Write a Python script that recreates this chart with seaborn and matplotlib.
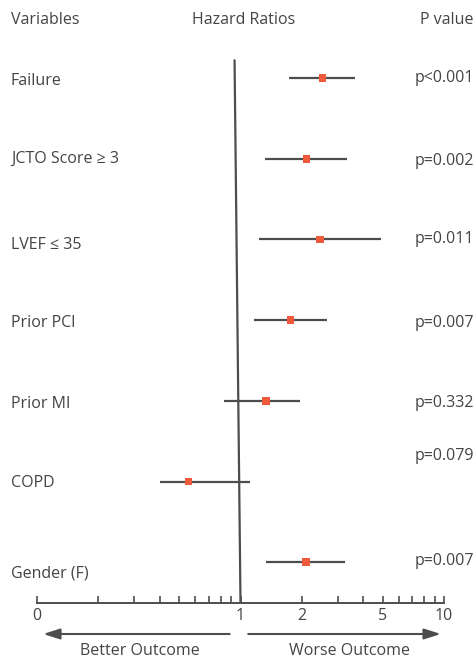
"""Forest plot of hazard ratios by variable."""

import matplotlib

matplotlib.use("Agg")

import matplotlib.pyplot as plt
import numpy as np
import pandas as pd
import seaborn as sns
from matplotlib.ticker import FixedLocator, FixedFormatter, NullFormatter

variables = ["Failure", "JCTO Score \u2265 3", "LVEF \u2264 35", "Prior PCl", "Prior MI", "COPD", "Gender (F)"]
hazard_ratio = [2.53, 2.11, 2.47, 1.76, 1.33, 0.555, 2.09]
ci_low = [1.73, 1.32, 1.23, 1.16, 0.83, 0.40, 1.34]
ci_high = [3.65, 3.32, 4.93, 2.67, 1.97, 1.11, 3.28]
p_values = ["p<0.001", "p=0.002", "p=0.011", "p=0.007", "p=0.332", "p=0.079", "p=0.007"]

major_ticks = [0.1, 1, 2, 5, 10]
major_labels = ["0", "1", "2", "5", "10"]
minor_ticks = [0.2, 0.3, 0.4, 0.5, 0.6, 0.7, 0.8, 0.9, 3, 4, 6, 7, 8, 9]

TEXT = "#444444"
LINE = "#4d4d4d"
MARK = "#f05a3c"
FS = 11.5

sns.set_style("white")
plt.rcParams["font.family"] = ["Open Sans", "DejaVu Sans"]

df = pd.DataFrame({"variable": variables, "hr": hazard_ratio, "lo": ci_low, "hi": ci_high, "p": p_values})
df["row"] = np.arange(len(df))

fig = plt.figure(figsize=(4.76, 6.58), dpi=100)
ax = fig.add_axes([37 / 476, 1 - 602.6 / 658, 407 / 476, 602.6 / 658])

ax.hlines(df["row"], df["lo"], df["hi"], color=LINE, linewidth=1.6, zorder=2)
sns.scatterplot(data=df, x="hr", y="row", ax=ax, marker="s", s=32, color=MARK,
                edgecolor="none", zorder=3, legend=False)

# reference line at HR = 1 (slightly tilted in the original)
ax.plot([0.935, 1.0], [-0.22, 6.5], color=LINE, linewidth=1.6, zorder=1)

ax.set_xscale("log")
ax.set_xlim(0.1, 10)
ax.set_ylim(6.5, -0.967)
ax.set_xlabel("")
ax.set_ylabel("")
ax.set_yticks([])
for side in ["top", "left", "right"]:
    ax.spines[side].set_visible(False)
ax.spines["bottom"].set_color(LINE)
ax.spines["bottom"].set_linewidth(1.4)
ax.xaxis.set_major_locator(FixedLocator(major_ticks))
ax.xaxis.set_major_formatter(FixedFormatter(major_labels))
ax.xaxis.set_minor_locator(FixedLocator(minor_ticks))
ax.xaxis.set_minor_formatter(NullFormatter())
ax.tick_params(axis="x", which="both", direction="in", bottom=True, length=5, width=1.2,
               color=LINE, labelcolor=TEXT, labelsize=FS, pad=4)

# row labels and p-values (x in axes fraction, y in data rows)
left_x = (11 - 37) / 407
right_x = (474 - 37) / 407
label_shift = [0.04, 0.0, 0.07, 0.04, 0.04, 0.02, 0.14]
p_shift = [0.0, 0.03, -0.01, 0.03, 0.03, -0.32, -0.01]
for r, name, p, ls, ps in zip(df["row"], variables, p_values, label_shift, p_shift):
    ax.text(left_x, r + ls, name, transform=ax.get_yaxis_transform(), ha="left", va="center",
            color=TEXT, fontsize=FS)
    ax.text(right_x, r + ps, p, transform=ax.get_yaxis_transform(), ha="right", va="center",
            color=TEXT, fontsize=FS)

# headers
fig.text(11 / 476, 1 - 20 / 658, "Variables", ha="left", va="center", color=TEXT, fontsize=FS)
fig.text(244 / 476, 1 - 20 / 658, "Hazard Ratios", ha="center", va="center", color=TEXT, fontsize=FS)
fig.text(474 / 476, 1 - 20 / 658, "P value", ha="right", va="center", color=TEXT, fontsize=FS)

# direction arrows
arrow_y = 658 - 634
arrow_style = dict(arrowstyle="-|>,head_length=1.0,head_width=0.32", color=LINE, lw=1.5)
ax.annotate("", xy=(0.104, arrow_y), xytext=(0.913, arrow_y),
            xycoords=("data", "figure pixels"), textcoords=("data", "figure pixels"),
            arrowprops=arrow_style, annotation_clip=False)
ax.annotate("", xy=(9.95, arrow_y), xytext=(1.058, arrow_y),
            xycoords=("data", "figure pixels"), textcoords=("data", "figure pixels"),
            arrowprops=arrow_style, annotation_clip=False)
ax.annotate("Better Outcome", xy=(0.319, 658 - 651), xycoords=("data", "figure pixels"),
            ha="center", va="center", color=TEXT, fontsize=FS, annotation_clip=False)
ax.annotate("Worse Outcome", xy=(3.43, 658 - 651), xycoords=("data", "figure pixels"),
            ha="center", va="center", color=TEXT, fontsize=FS, annotation_clip=False)

fig.savefig("out.png", dpi=100)
plt.close(fig)
